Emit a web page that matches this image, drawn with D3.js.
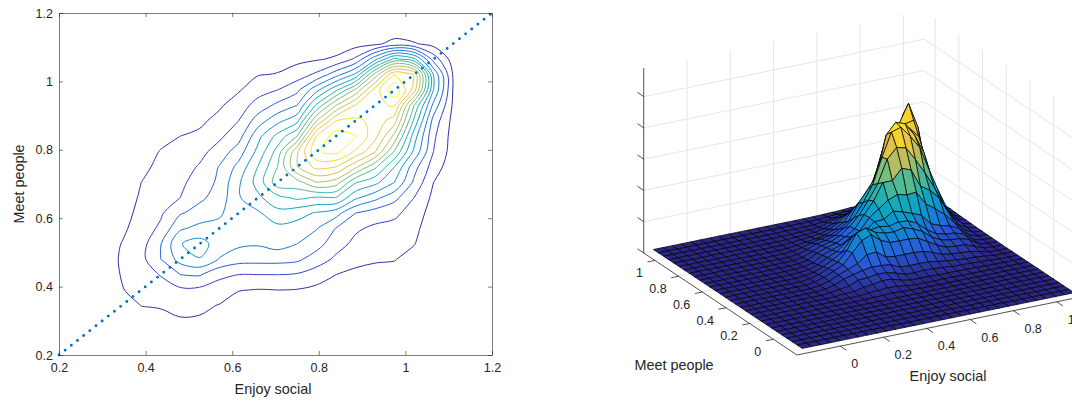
<!DOCTYPE html>
<meta charset="utf-8">
<title>Enjoy social / Meet people</title>
<script src="https://d3js.org/d3.v7.min.js"></script>
<style>
  body { margin: 0; background: #fff; }
  text { font-family: "Liberation Sans", Arial, sans-serif; fill: #262626; }
</style>
<svg id="chart" width="1072" height="402"></svg>
<script>

// grid the density was sampled on (both axes)
const gridVals = [-0.15,-0.105,-0.06,-0.015,0.03,0.075,0.12,0.165,0.21,0.255,0.3,0.345,0.39,0.435,0.48,
  0.525,0.57,0.615,0.66,0.705,0.75,0.795,0.84,0.885,0.93,0.975,1.02,1.065,1.11,1.155];

// density. One list per x, starting at x=0.255
// each list runs from y=0.21 (first) up to y=1.155 (last), everything else is ~0
const col255 = [.01,.03,.06,.1,.14,.17,.18,.16,.12,.08,.05,.03,.02,.01,0,0,0,0,0,0,0,0];
const col300 = [.02,.08,.18,.3,.42,.5,.55,.45,.3,.2,.12,.08,.05,.03,.02,.01,0,0,0,0,0,0];
const col345 = [.05,.1,.2,.5,.95,1.05,1.1,1.03,.8,.6,.4,.3,.2,.15,.1,.05,.02,0,0,0,0,0];
const col390 = [.08,.2,.5,1.02,1.3,1.55,1.7,1.6,1.45,1.3,1.15,1.0,.75,.55,.35,.2,.12,.05,.02,0,0,0];
const col435 = [.1,.3,.65,1.1,1.6,2.05,3.0,2.95,2.2,1.85,1.6,1.45,1.25,1.05,.7,.4,.25,.12,.05,.02,0,0];
const col480 = [.15,.4,.9,1.3,1.8,3.0,4.4,4.95,3.85,2.9,2.0,1.8,1.55,1.25,1.0,.55,.35,.2,.1,.04,.01,0];
const col525 = [.12,.35,.85,1.25,1.75,3.1,4.95,5.4,4.3,3.4,2.8,2.4,2.1,1.7,1.2,.8,.5,.25,.12,.05,.02,0];
const col570 = [.05,.15,.45,.95,1.6,2.2,3.95,4.55,4.4,3.8,3.4,3.2,3.05,2.4,1.8,1.3,.85,.5,.2,.08,.03,.01];
const col615 = [.02,.05,.2,.5,1.05,2,3.4,4.2,4.6,4.8,4.9,4.85,4.3,3.5,2.6,2,1.5,.9,.6,.2,.06,.02];
const col660 = [.01,.05,.2,.5,.95,2,3.35,4.1,4.4,4.85,5.8,6.4,6.05,5.3,4.7,3.5,2.4,1.6,.95,.45,.15,.04];
const col705 = [.01,.05,.2,.55,1,2,3.35,4.4,4.7,5.7,6.7,8.6,8,7.4,6.3,4.7,3.25,2,1.05,.65,.3,.08];
const col750 = [.01,.05,.15,.5,.95,1.9,3.2,4,4.6,5.35,7.2,8.6,11,10.8,8,5.7,4,2.75,1.5,.75,.4,.12];
const col795 = [.01,.05,.15,.4,.75,1.5,2.5,3.4,4.05,4.9,6.9,10,12.3,13.9,13.1,10,7.2,4.7,2.2,.9,.45,.2];
const col840 = [.01,.03,.12,.3,.6,1,1.8,2.4,2.95,4.4,7,9.5,12,14.3,14.5,13,10,6.8,3.6,1.15,.5,.2];
const col885 = [0,.03,.1,.25,.45,.8,1.25,1.75,2.15,3,5.2,7.1,10.2,12.85,14.05,13.2,12.1,9.2,5.2,2.2,.6,.12];
const col930 = [0,.02,.08,.2,.35,.7,1.1,1.5,1.8,2.5,4.3,6.3,8.2,11.1,12.3,12.75,12.8,12.4,9.4,4.7,.75,.2];
const col975 = [0,.02,.05,.15,.3,.6,1.05,1.4,1.7,2.2,3.3,5,6,7.9,9.7,11.4,13.1,14.9,13,7.3,1.4,.2];
const col1020 = [0,0,.03,.1,.2,.35,.6,1.05,1.3,1.6,2,2.8,3.4,4.8,5.5,6.8,8,11.5,12,6.3,1.1,.2];
const col1065 = [0,0,0,.01,.02,.05,.1,.2,.3,.5,.75,1,1.5,2,2.2,2.6,3.7,5,4.9,2.6,.65,.05];
const col1110 = [0,0,0,0,0,0,0,.01,.05,.1,.15,.25,.4,.55,.6,.7,.85,.95,.92,.5,.15,.02];
const col1155 = [0,0,0,0,0,0,0,0,.01,.02,.03,.05,.08,.1,.12,.15,.2,.2,.2,.1,.02,0];

const densityCols = [col255,col300,col345,col390,col435,col480,col525,col570,col615,col660,col705,
  col750,col795,col840,col885,col930,col975,col1020,col1065,col1110,col1155];

const contourLevels = [1,2,3,4,5,6,7,8,9,10,11,12,13,14];

const plainTicks = [0.2,0.4,0.6,0.8,1,1.2];
const surfXTicks = [0,0.2,0.4,0.6,0.8,1];
const surfYTicks = [0,0.2,0.4,0.6,0.8,1];
const surfZTicks = [0,4.17,8.34,12.51,16.68,20.85];
const diagonal = [0.2,1.2];

const parulaStops = ["#3e26a8","#2a52e0","#1481d6","#06a4ca","#2eb7a4","#87bf77","#d1bb59","#fec832","#f9fb0e"];
const parula = d3.interpolateRgbBasis(parulaStops);

const n = gridVals.length;
const zAt = (i, r) => (densityCols[i - 9] || [])[r - 8] || 0;

const svg = d3.select("#chart");

// ---------- left panel: contours ----------
const x = d3.scaleLinear().domain([0.2,1.2]).range([59,492]);
const y = d3.scaleLinear().domain([0.2,1.2]).range([355,13]);
const left = svg.append("g");

const flat = [];
for (let r = 0; r < n; r++) for (let i = 0; i < n; i++) flat.push(zAt(i, r));
const contours = d3.contours().size([n, n]).thresholds(contourLevels)(flat);

// contour coords are in cell units, grid point i sits at i+0.5
const step = gridVals[1] - gridVals[0];
const cellToData = c => gridVals[0] + (c - 0.5) * step;
const ringLine = d3.line().x(p => x(cellToData(p[0]))).y(p => y(cellToData(p[1])))
  .curve(d3.curveCatmullRomClosed.alpha(0.5));
const lineColor = d3.scaleLinear().domain([1,14]).range([0,1]);

contours.forEach(c => {
  const rings = c.coordinates.flat();
  left.selectAll(null).data(rings).join("path")
    .attr("d", d => ringLine(d.slice(0, -1)))
    .attr("fill", "none")
    .attr("stroke", parula(lineColor(c.value)))
    .attr("stroke-width", 1);
});

// dotted diagonal
left.append("line")
  .attr("x1", x(diagonal[0])).attr("y1", y(diagonal[0]))
  .attr("x2", x(diagonal[1])).attr("y2", y(diagonal[1]))
  .attr("stroke", "#0072bd").attr("stroke-width", 2.9)
  .attr("stroke-linecap", "round").attr("stroke-dasharray", "0 7.85");

function styleAxis(g) {
  g.selectAll("path,line").attr("stroke", "#262626").attr("stroke-width", 0.6);
  g.selectAll("text").style("font-size", "12.5px").style("font-family", "Liberation Sans");
}
const fmt = d => String(d);
left.append("g").attr("transform", "translate(0,355)")
  .call(d3.axisBottom(x).tickValues(plainTicks).tickFormat(fmt).tickSizeOuter(0).tickSizeInner(-4).tickPadding(8)).call(styleAxis);
left.append("g").attr("transform", "translate(59,0)")
  .call(d3.axisLeft(y).tickValues(plainTicks).tickFormat(fmt).tickSizeOuter(0).tickSizeInner(-4).tickPadding(6)).call(styleAxis);
left.append("g").attr("transform", "translate(0,13)")
  .call(d3.axisTop(x).tickValues(plainTicks).tickFormat("").tickSizeOuter(0).tickSizeInner(-4)).call(styleAxis);
left.append("g").attr("transform", "translate(492,0)")
  .call(d3.axisRight(y).tickValues(plainTicks).tickFormat("").tickSizeOuter(0).tickSizeInner(-4)).call(styleAxis);

left.append("text").attr("x", 273).attr("y", 394).attr("text-anchor", "middle")
  .style("font-size", "14.4px").text("Enjoy social");
left.append("text").attr("transform", "translate(24,184) rotate(-90)").attr("text-anchor", "middle")
  .style("font-size", "14.4px").text("Meet people");

// ---------- right panel: surface ----------
const lim = [-0.2,1.095];          // both floor axes
const floorX = d3.scaleLinear().domain(lim).range([0,1]);
const zScale = d3.scaleLinear().domain([0,24.66]).range([0,185]);
const bottomCorner = [797,355], xEdge = [280.3,-57.4], yEdge = [-153.3,-102];

function project(u, v, z) {
  const a = floorX(u), b = floorX(v);
  return [bottomCorner[0] + a * xEdge[0] + b * yEdge[0],
          bottomCorner[1] + a * xEdge[1] + b * yEdge[1] - zScale(z)];
}
// the mesh sits a little inside the box
const gridToAxis = d3.scaleLinear().domain([gridVals[0], gridVals[n-1]]).range([-0.147,1.11]);

const right = svg.append("g");
const gridColor = "#e6e6e6";
const wallLine = (p, q) => right.append("line")
  .attr("x1", p[0]).attr("y1", p[1]).attr("x2", q[0]).attr("y2", q[1])
  .attr("stroke", gridColor).attr("stroke-width", 1);

const zTop = zScale.domain()[1];
surfXTicks.forEach(t => {
  wallLine(project(t, lim[1], 0), project(t, lim[1], zTop));
  wallLine(project(t, lim[0], 0), project(t, lim[1], 0));
});
surfYTicks.forEach(t => {
  wallLine(project(lim[1], t, 0), project(lim[1], t, zTop));
  wallLine(project(lim[0], t, 0), project(lim[1], t, 0));
});
surfZTicks.forEach(t => {
  wallLine(project(lim[0], lim[1], t), project(lim[1], lim[1], t));
  wallLine(project(lim[1], lim[1], t), project(lim[1], lim[0], t));
});

// mesh cells, far ones first
const zMax = d3.max(flat);
const lowFace = d3.interpolateRgb("#2b2585", parula(0.14));
const faceColor = t => t < 0.14 ? lowFace(t / 0.14) : parula(t);
const cells = [];
for (let r = 0; r < n - 1; r++) for (let i = 0; i < n - 1; i++) {
  const corners = [[i,r],[i+1,r],[i+1,r+1],[i,r+1]];
  const pts = corners.map(c => project(gridToAxis(gridVals[c[0]]), gridToAxis(gridVals[c[1]]), zAt(c[0], c[1])));
  const base = project(gridToAxis(gridVals[i]), gridToAxis(gridVals[r]), 0);
  cells.push({pts, depth: base[1], mean: d3.mean(corners, c => zAt(c[0], c[1]))});
}
cells.sort((a, b) => a.depth - b.depth);
right.selectAll("path.cell").data(cells).join("path")
  .attr("class", "cell")
  .attr("d", d => "M" + d.pts.join("L") + "Z")
  .attr("fill", d => faceColor(d.mean / zMax))
  .attr("stroke", "#000").attr("stroke-width", 0.7).attr("stroke-linejoin", "round");

// box edges and ticks
const darkLine = (p, q) => right.append("line")
  .attr("x1", p[0]).attr("y1", p[1]).attr("x2", q[0]).attr("y2", q[1])
  .attr("stroke", "#262626").attr("stroke-width", 0.8);

darkLine(project(lim[0], lim[1], 0), project(lim[0], lim[0], 0));
darkLine(project(lim[0], lim[0], 0), project(lim[1], lim[0], 0));
darkLine(project(lim[0], lim[1], 0), project(lim[0], lim[1], zTop));

surfXTicks.forEach(t => {
  const p = project(t, lim[0], 0);
  darkLine(p, [p[0] + 6.2, p[1] + 4.2]);
  right.append("text").attr("x", p[0] + 11).attr("y", p[1] + 22).style("font-size", "12.5px").text(fmt(t));
});
surfYTicks.forEach(t => {
  const p = project(lim[0], t, 0);
  darkLine(p, [p[0] - 7.4, p[1] + 1.5]);
  right.append("text").attr("x", p[0] - 12).attr("y", p[1] + 17).attr("text-anchor", "end")
    .style("font-size", "12.5px").text(fmt(t));
});
surfZTicks.forEach(t => {
  const p = project(lim[0], lim[1], t);
  darkLine(p, [p[0] - 6.2, p[1] - 4.2]);
});

right.append("text").attr("x", 948).attr("y", 381).attr("text-anchor", "middle")
  .style("font-size", "14.4px").text("Enjoy social");
right.append("text").attr("x", 674).attr("y", 370).attr("text-anchor", "middle")
  .style("font-size", "14.4px").text("Meet people");
</script>
